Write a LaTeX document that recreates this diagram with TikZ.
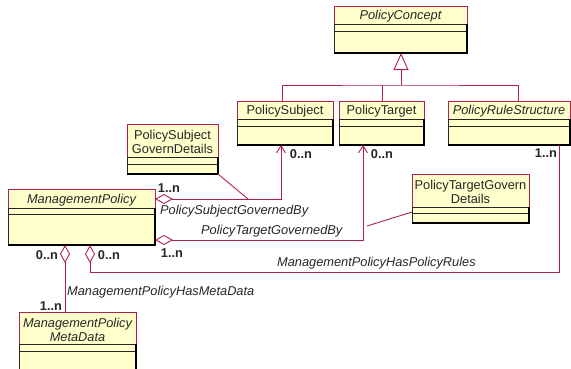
\documentclass[tikz,border=0pt]{standalone}
\usepackage{fontspec}
\setmainfont{Liberation Sans}
\usetikzlibrary{arrows.meta}
\definecolor{umlred}{RGB}{176,32,80}
\definecolor{umlfill}{RGB}{255,255,204}
\newcommand\umlfont{\fontsize{12.8}{14}\selectfont}

% UML class: #1 name, #2 left, #3 top, #4 right, #5 bottom,
% #6 end of name compartment, #7 end of attribute compartment, #8 title
\newcommand\umlclass[8]{%
  \node[classbody, minimum width={(#4-#2)*1pt}, minimum height={(#5-#3)*1pt}]
    (#1) at ({(#2+#4)/2},{(#3+#5)/2}) {};
  \draw[sepline] (#2,#6) -- (#4,#6) (#2,#7) -- (#4,#7);
  \draw[nameedge] (#2,#6) -- (#2,#3) -- (#4,#3) -- (#4,#6);
  \draw[sepline] (#2,#6) -- (#2,#5);
  \draw[shadowedge] (#2,#5) -- (#4,#5) -- (#4,#6);
  \node[classname] (#1-title) at ({(#2+#4)/2},{(#3+#6)/2}) {#8};
}

\tikzset{
  classbody/.style={rectangle, fill=umlfill, draw=none, inner sep=0pt, outer sep=0pt},
  sepline/.style={draw=black!85, line width=0.9pt},
  nameedge/.style={draw=umlred, line width=0.9pt},
  shadowedge/.style={draw=black, line width=2pt},
  classname/.style={font=\umlfont, align=center, inner sep=0pt, text=black!85, yshift=-1.5pt},
  assoc/.style={draw=umlred, line width=0.9pt},
  agg/.tip={Diamond[open, length=18pt, width=10pt]},
  nav/.tip={Straight Barb[length=7pt, width=9pt]},
  mult/.style={font=\umlfont\bfseries, inner sep=0pt, text=black!85},
  role/.style={font=\umlfont\itshape, inner sep=0pt, anchor=west, text=black!85},
}

\begin{document}
\begin{tikzpicture}[x=1pt, y=-1pt]
\useasboundingbox[fill=white] (0,0) rectangle (571,368);

% classes
\umlclass{PC}{334}{6}{467}{53}{24}{31}{\itshape PolicyConcept}
\umlclass{PS}{237}{101}{333}{145}{119}{126}{PolicySubject}
\umlclass{PT}{339}{101}{424}{145}{119}{126}{PolicyTarget}
\umlclass{PRS}{448}{101}{570}{145}{119}{126}{\itshape PolicyRuleStructure}
\umlclass{PSGD}{127}{124}{218}{174}{157}{164}{PolicySubject\\GovernDetails}
\umlclass{MP}{8}{189}{155}{245}{208}{214}{\itshape ManagementPolicy}
\umlclass{PTGD}{412}{174}{529}{223}{207}{213}{PolicyTargetGovern\\Details}
\umlclass{MPMD}{19}{312}{136}{380}{344}{351}{\itshape ManagementPolicy\\\itshape MetaData}

% generalisation tree
\coordinate (gen) at (401,85);
\draw[assoc, -{Triangle[open, length=17pt, width=15pt]}] (gen) -- (PC.south -| gen);
\draw[assoc] (PS.north -| 282,0) |- (gen) -| (PRS.north -| 518,0);
\draw[assoc] (PT.north -| 382,0) -- (382,85);

% PolicySubjectGovernedBy
\coordinate (psJoin) at (248,199);
\draw[assoc, {nav}-{agg}] (PS.south -| 281,0) |- (MP.east |- 0,199);
\draw[assoc] (PSGD.south east) -- (psJoin);
\node[mult] (m1) at (169,188) {1..n};
\node[mult] (m2) at (301,154) {0..n};
\node[role] (r1) at (160,211) {PolicySubjectGovernedBy};

% PolicyTargetGovernedBy
\coordinate (ptJoin) at (367,226);
\draw[assoc, {nav}-{agg}] (PT.south -| 363,0) |- (MP.east |- 0,240);
\draw[assoc] (PTGD.west |- 0,212) -- (ptJoin);
\node[mult] (m3) at (172,253) {1..n};
\node[mult] (m4) at (382,154) {0..n};
\node[role] (r2) at (201,231) {PolicyTargetGovernedBy};

% ManagementPolicyHasPolicyRules
\draw[assoc, -{agg}] (PRS.south -| 559,0) |- (90,272) -- (MP.south -| 90,0);
\node[mult] (m5) at (546,153) {1..n};
\node[mult] (m6) at (109,255) {0..n};
\node[role] (r3) at (277,263) {ManagementPolicyHasPolicyRules};

% ManagementPolicyHasMetaData
\draw[assoc, {agg}-] (MP.south -| 65,0) -- (MPMD.north -| 65,0);
\node[mult] (m7) at (47,255) {0..n};
\node[mult] (m8) at (51,306) {1..n};
\node[role] (r4) at (67,292) {ManagementPolicyHasMetaData};
\end{tikzpicture}
\end{document}
